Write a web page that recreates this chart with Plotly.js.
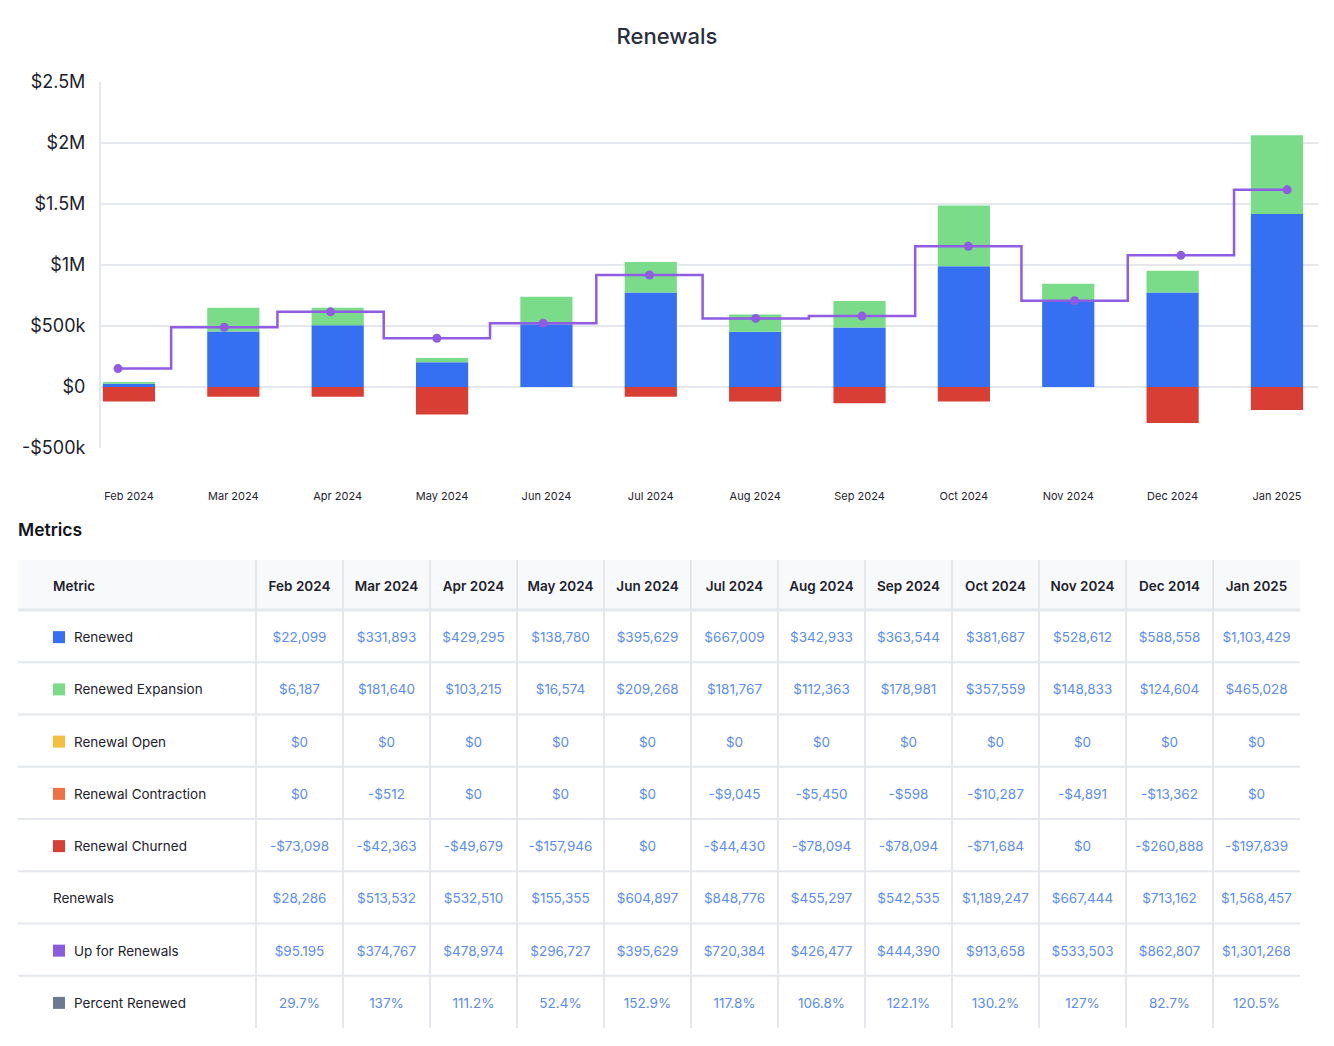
<!DOCTYPE html>
<html><head><meta charset="utf-8">
<script src="https://cdn.plot.ly/plotly-3.0.1.min.js"></script>
<style>html,body{margin:0;padding:0;background:#fff;}#chart{width:1334px;height:1046px;}</style>
</head><body><div id="chart"></div>
<script>
// ---------- chart data ----------
const months = ["Feb 2024","Mar 2024","Apr 2024","May 2024","Jun 2024","Jul 2024","Aug 2024","Sep 2024","Oct 2024","Nov 2024","Dec 2024","Jan 2025"];
const renewed   = [27000, 455000, 507000, 203000, 515000, 775000, 452000, 488000, 989000, 707000, 775000, 1419000];
const expansion = [14000, 194000, 142000, 35000, 225000, 250000, 143000, 216000, 499000, 140000, 178000, 644000];
const churned   = [-118000, -79000, -79000, -225000, 0, -79000, -118000, -134000, -118000, 0, -296000, -189000];
const upForRenewals = [151000, 490000, 616000, 400000, 523000, 918000, 562000, 581000, 1153000, 707000, 1079000, 1616000];
const yTickVals  = [-500000, 0, 500000, 1000000, 1500000, 2000000, 2500000];
const yTickLabels = ["-$500k", "$0", "$500k", "$1M", "$1.5M", "$2M", "$2.5M"];

// ---------- table data ----------
const tableHeader = ["Metric","Feb 2024","Mar 2024","Apr 2024","May 2024","Jun 2024","Jul 2024","Aug 2024","Sep 2024","Oct 2024","Nov 2024","Dec 2014","Jan 2025"];
const rowLabels = ["Renewed","Renewed Expansion","Renewal Open","Renewal Contraction","Renewal Churned","Renewals","Up for Renewals","Percent Renewed"];
const rowSwatches = ["#3670F2","#7ADC89","#F4BE3E","#EF7148","#D93E34",null,"#8B5CE0","#6B7A90"];
const tRenewed     = ["$22,099","$331,893","$429,295","$138,780","$395,629","$667,009","$342,933","$363,544","$381,687","$528,612","$588,558","$1,103,429"];
const tExpansion   = ["$6,187","$181,640","$103,215","$16,574","$209,268","$181,767","$112,363","$178,981","$357,559","$148,833","$124,604","$465,028"];
const tOpen        = ["$0","$0","$0","$0","$0","$0","$0","$0","$0","$0","$0","$0"];
const tContraction = ["$0","-$512","$0","$0","$0","-$9,045","-$5,450","-$598","-$10,287","-$4,891","-$13,362","$0"];
const tChurned     = ["-$73,098","-$42,363","-$49,679","-$157,946","$0","-$44,430","-$78,094","-$78,094","-$71,684","$0","-$260,888","-$197,839"];
const tRenewals    = ["$28,286","$513,532","$532,510","$155,355","$604,897","$848,776","$455,297","$542,535","$1,189,247","$667,444","$713,162","$1,568,457"];
const tUpFor       = ["$95.195","$374,767","$478,974","$296,727","$395,629","$720,384","$426,477","$444,390","$913,658","$533,503","$862,807","$1,301,268"];
const tPercent     = ["29.7%","137%","111.2%","52.4%","152.9%","117.8%","106.8%","122.1%","130.2%","127%","82.7%","120.5%"];
const tableRows = [tRenewed, tExpansion, tOpen, tContraction, tChurned, tRenewals, tUpFor, tPercent];

// ---------- layout constants ----------
const W = 1334, H = 1046;
const FONT = "Inter, 'Noto Sans', sans-serif";
const GRID = "#E4E7EC";
const px = v => v / W, py = v => 1 - v / H;

const colW = [238].concat(new Array(12).fill(87));
const colStart = []; { let a = 0; colW.forEach(w => { colStart.push(a); a += w; }); }
const tableW = colW.reduce((a, b) => a + b, 0);
const headerH = 50, rowH = 52.25, textDy = 2.5;
const tableH = headerH + rowH * rowLabels.length;
const rowCenter = i => headerH + rowH * i + rowH / 2;

const idx = months.map((m, i) => i);

const traces = [
  { type: "bar", name: "Renewed", x: months, y: renewed, marker: { color: "#3670F2" }, width: 0.5, hoverinfo: "y" },
  { type: "bar", name: "Renewed Expansion", x: months, y: expansion, marker: { color: "#7ADC89" }, width: 0.5, hoverinfo: "y" },
  { type: "bar", name: "Renewal Churned", x: months, y: churned, marker: { color: "#D93E34" }, width: 0.5, hoverinfo: "y" },
  { type: "scatter", mode: "lines+markers", name: "Up for Renewals", x: idx, y: upForRenewals, xaxis: "x2", yaxis: "y",
    line: { shape: "hvh", color: "#8F5CE3", width: 2.5 }, marker: { color: "#8F5CE3", size: 9 } }
];

// table text traces
const hx = [], hy = [], ht = [];
tableHeader.slice(1).forEach((h, j) => { hx.push(colStart[j + 1] + colW[j + 1] / 2); hy.push(headerH / 2 + textDy); ht.push(h); });
traces.push({ type: "scatter", mode: "text", x: hx, y: hy, text: ht, xaxis: "x3", yaxis: "y3", hoverinfo: "skip",
  textposition: "middle center", textfont: { family: FONT, size: 13.5, color: "#1E222B", weight: 600 } });
traces.push({ type: "scatter", mode: "text", x: [35], y: [headerH / 2 + textDy], text: [tableHeader[0]], xaxis: "x3", yaxis: "y3", hoverinfo: "skip",
  textposition: "middle right", textfont: { family: FONT, size: 13.5, color: "#1E222B", weight: 600 } });

const vx = [], vy = [], vt = [];
tableRows.forEach((row, i) => row.forEach((v, j) => { vx.push(colStart[j + 1] + colW[j + 1] / 2); vy.push(rowCenter(i) + textDy); vt.push(v); }));
traces.push({ type: "scatter", mode: "text", x: vx, y: vy, text: vt, xaxis: "x3", yaxis: "y3", hoverinfo: "skip",
  textposition: "middle center", textfont: { family: FONT, size: 13.5, color: "#5A8CEE" } });

const lx = [], ly = [], lt = [];
rowLabels.forEach((l, i) => { lx.push(rowSwatches[i] ? 56 : 35); ly.push(rowCenter(i) + textDy); lt.push(l); });
traces.push({ type: "scatter", mode: "text", x: lx, y: ly, text: lt, xaxis: "x3", yaxis: "y3", hoverinfo: "skip",
  textposition: "middle right", textfont: { family: FONT, size: 13.5, color: "#1E222B" } });

const sx = [], sy = [], sc = [];
rowSwatches.forEach((c, i) => { if (c) { sx.push(41); sy.push(rowCenter(i) + 1); sc.push(c); } });
traces.push({ type: "scatter", mode: "markers", x: sx, y: sy, xaxis: "x3", yaxis: "y3", hoverinfo: "skip",
  marker: { symbol: "square", size: 12, color: sc, line: { width: 0 } } });

// table shapes
const shapes = [];
shapes.push({ type: "rect", xref: "x3", yref: "y3", x0: 0, x1: tableW, y0: 0, y1: headerH, fillcolor: "#F8F9FB", line: { width: 0 }, layer: "below" });
for (let i = 0; i < rowLabels.length; i++) {
  const yy = headerH + rowH * i;
  shapes.push({ type: "line", xref: "x3", yref: "y3", x0: 0, x1: tableW, y0: yy, y1: yy, line: { color: GRID, width: i === 0 ? 3 : 2 }, layer: "below" });
}
for (let j = 1; j < colW.length; j++) {
  shapes.push({ type: "line", xref: "x3", yref: "y3", x0: colStart[j], x1: colStart[j], y0: 0, y1: tableH, line: { color: GRID, width: 2 }, layer: "below" });
}

const layout = {
  width: W, height: H, margin: { l: 0, r: 0, t: 0, b: 0 },
  paper_bgcolor: "#fff", plot_bgcolor: "#fff",
  font: { family: FONT, color: "#1E222B" },
  showlegend: false, barmode: "relative",
  title: { text: "Renewals", x: 0.5, xanchor: "center", xref: "paper", y: py(36), yanchor: "middle", yref: "container",
    font: { family: FONT, size: 22, color: "#2A2F3C", weight: 500 } },
  xaxis: { domain: [px(101), px(1318)], type: "category", range: [-0.268, 11.393], showgrid: false, zeroline: false, showline: false,
    ticks: "outside", ticklen: 38, tickcolor: "rgba(0,0,0,0)", tickfont: { family: FONT, size: 11, color: "#1E222B" } },
  xaxis2: { overlaying: "x", domain: [px(101), px(1318)], range: [-0.16, 11.29], visible: false },
  yaxis: { domain: [py(448), py(82)], range: [-500000, 2500000], tickvals: yTickVals, ticktext: yTickLabels,
    showgrid: true, gridcolor: GRID, gridwidth: 2, zeroline: true, zerolinecolor: GRID, zerolinewidth: 2,
    showline: true, linecolor: GRID, linewidth: 2, ticks: "outside", ticklen: 10, tickcolor: "rgba(0,0,0,0)",
    tickfont: { family: FONT, size: 18, color: "#1E222B" } },
  xaxis3: { domain: [px(18), px(18 + tableW)], range: [0, tableW], visible: false, fixedrange: true },
  yaxis3: { domain: [py(560 + tableH), py(560)], range: [tableH, 0], visible: false, fixedrange: true, anchor: "x3" },
  shapes: shapes,
  annotations: [{ text: "Metrics", xref: "paper", yref: "paper", x: px(16), y: py(529), xanchor: "left", yanchor: "middle",
    showarrow: false, font: { family: FONT, size: 17.5, color: "#111418", weight: 600 } }]
};
traces.forEach(t => { if (t.xaxis === "x3") t.cliponaxis = false; });
Plotly.newPlot("chart", traces, layout, { displayModeBar: false, staticPlot: true });
</script></body></html>
